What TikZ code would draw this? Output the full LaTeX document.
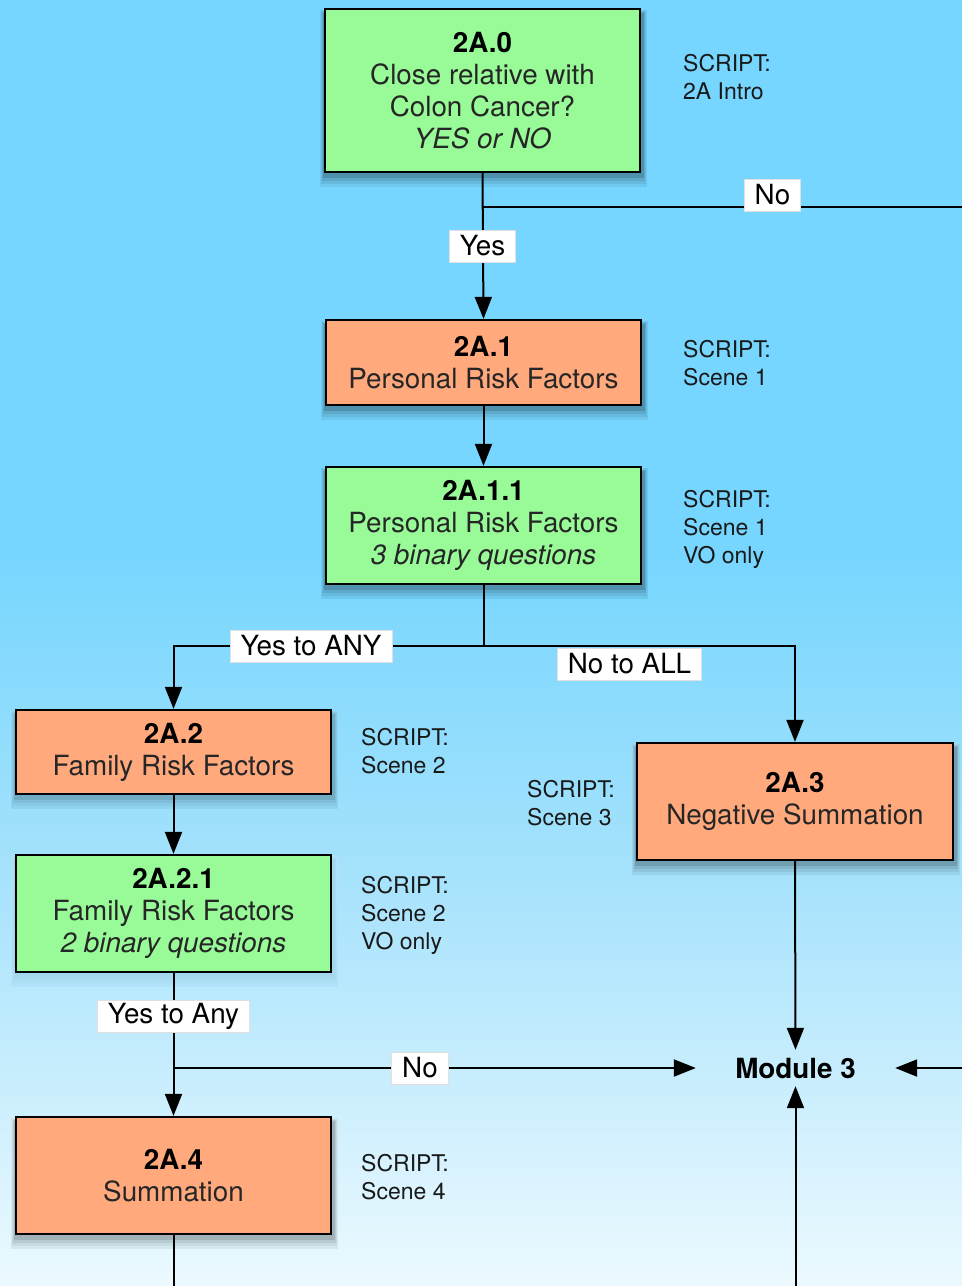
\documentclass[tikz,border=0pt]{standalone}
\usepackage{fontspec}
\setmainfont{TeX Gyre Heros}
\usepackage{tikz}
\usetikzlibrary{shapes,arrows.meta}
\definecolor{skytop}{RGB}{118,214,255}
\definecolor{skymid}{RGB}{165,226,252}
\definecolor{skylow}{RGB}{236,249,255}
\definecolor{boxgreen}{RGB}{152,251,152}
\definecolor{boxorange}{RGB}{255,169,125}
\pgfdeclarelayer{bgstrip}
\pgfdeclarelayer{shadow}
\pgfsetlayers{bgstrip,shadow,main}
\tikzstyle{stepbox}=[draw=black, line width=2.2pt, minimum width=315pt, inner sep=0pt, align=center, text=black!85, font=\fontsize{27.8}{32}\selectfont]
\tikzstyle{greenbox}=[stepbox, fill=boxgreen]
\tikzstyle{orangebox}=[stepbox, fill=boxorange]
\tikzstyle{scripttext}=[anchor=west, align=left, inner sep=0pt, text=black!90, font=\fontsize{23}{28}\selectfont]
\tikzstyle{lbl}=[fill=white, draw=black!12, line width=0.8pt, minimum height=32pt, inner xsep=10.5pt, inner ysep=0pt, font=\fontsize{27.8}{32}\selectfont]
\tikzstyle{flow}=[line width=2pt, -{Triangle[length=22pt,width=17pt]}]
\tikzstyle{plain}=[line width=2pt]
\newcommand{\stepno}[1]{\textcolor{black}{\textbf{#1}}}
\newcommand{\boxshadow}[2]{%
  \begin{pgfonlayer}{shadow}
  \fill[black!7!#2] ([xshift=-4pt,yshift=-14pt]#1.south west) rectangle ([xshift=6pt,yshift=-2pt]#1.north east);
  \fill[black!13!#2] ([xshift=-3pt,yshift=-11pt]#1.south west) rectangle ([xshift=5pt,yshift=-3pt]#1.north east);
  \fill[black!21!#2] ([xshift=-2pt,yshift=-8pt]#1.south west) rectangle ([xshift=4pt,yshift=-4pt]#1.north east);
  \fill[black!32!#2] ([xshift=-1pt,yshift=-5pt]#1.south west) rectangle ([xshift=3pt,yshift=-5pt]#1.north east);
  \end{pgfonlayer}}

\begin{document}
\begin{tikzpicture}[x=1pt, y=-1pt]

\useasboundingbox (0,0) rectangle (962,1286);
\begin{pgfonlayer}{bgstrip}
\foreach \i in {0,...,257} {
  \pgfmathsetmacro{\yy}{\i*5+2.5}
  \pgfmathsetmacro{\pa}{max(0,min(100,(\yy-550)/3.2))}
  \pgfmathsetmacro{\pb}{max(0,min(100,(\yy-870)/4.16))}
  \fill[skylow!\pb!skymid!\pa!skytop] (0,\i*5) rectangle (962,\i*5+5.4);
}
\end{pgfonlayer}

\node[greenbox, minimum height=163pt] (n20) at (482.5, 90.5) {\stepno{2A.0}\\Close relative with\\Colon Cancer?\\\textit{YES or NO}};
\node[orangebox, minimum height=85pt] (n21) at (483.5, 362.5) {\stepno{2A.1}\\Personal Risk Factors};
\node[greenbox, minimum height=117pt] (n211) at (483.5, 525.5) {\stepno{2A.1.1}\\Personal Risk Factors\\\textit{3 binary questions}};
\node[orangebox, minimum height=84pt] (n22) at (173.5, 752) {\stepno{2A.2}\\Family Risk Factors};
\node[orangebox, minimum width=316pt, minimum height=117pt] (n23) at (795, 801.5) {\stepno{2A.3}\\Negative Summation};
\node[greenbox, minimum height=117pt] (n221) at (173.5, 913.5) {\stepno{2A.2.1}\\Family Risk Factors\\\textit{2 binary questions}};
\node[orangebox, minimum height=117pt] (n24) at (173.5, 1175.5) {\stepno{2A.4}\\Summation};
\node[inner sep=0pt, minimum width=199pt, minimum height=36pt, font=\fontsize{27.8}{32}\selectfont\bfseries] (m3) at (795.5, 1068) {Module 3};

\foreach \nd/\bg in {n20/skytop, n21/skytop, n211/skytop, n22/{skymid!70!skytop}, n23/{skymid!95!skytop}, n221/{skylow!20!skymid}, n24/{skylow!85!skymid}}
  \boxshadow{\nd}{\bg};

\node[scripttext] (s20) at (683, 77) {SCRIPT:\\2A Intro};
\node[scripttext] (s21) at (683, 363) {SCRIPT:\\Scene 1};
\node[scripttext] (s211) at (683, 529) {SCRIPT:\\Scene 1\\VO only};
\node[scripttext] (s22) at (361, 751) {SCRIPT:\\Scene 2};
\node[scripttext] (s23) at (527, 803) {SCRIPT:\\Scene 3};
\node[scripttext] (s221) at (361, 915) {SCRIPT:\\Scene 2\\VO only};
\node[scripttext] (s24) at (361, 1177) {SCRIPT:\\Scene 4};

\coordinate (noout) at (962, 207);
\coordinate (split1) at (483.5, 646);
\coordinate (rightin) at (962, 1068);
\coordinate (bottomin) at (795.5, 1286);
\coordinate (bottomout) at (173.5, 1286);

\draw[flow] (n20.south) -- (n21.north);
\draw[plain] (n20.south |- noout) -- (noout);
\draw[flow] (n21.south) -- (n211.north);
\draw[plain] (n211.south) -- (split1);
\draw[flow] (split1) -| (n22.north);
\draw[flow] (split1) -| (n23.north);
\draw[flow] (n22.south) -- (n221.north);
\draw[flow] (n221.south) -- (n24.north);
\draw[flow] (n221.south |- m3) -- (m3.west);
\draw[flow] (n23.south) -- (m3.north);
\draw[flow] (rightin) -- (m3.east);
\draw[flow] (bottomin) -- (m3.south);
\draw[plain] (n24.south) -- (bottomout);

\node[lbl] (l20no) at (772.5, 195) {No};
\node[lbl] (l20yes) at (482.5, 246) {Yes};
\node[lbl] (l211yes) at (311, 646) {Yes to ANY};
\node[lbl] (l211no) at (629.5, 664) {No to ALL};
\node[lbl] (l221yes) at (173.5, 1016) {Yes to Any};
\node[lbl] (l221no) at (420, 1068) {No};

\end{tikzpicture}
\end{document}
